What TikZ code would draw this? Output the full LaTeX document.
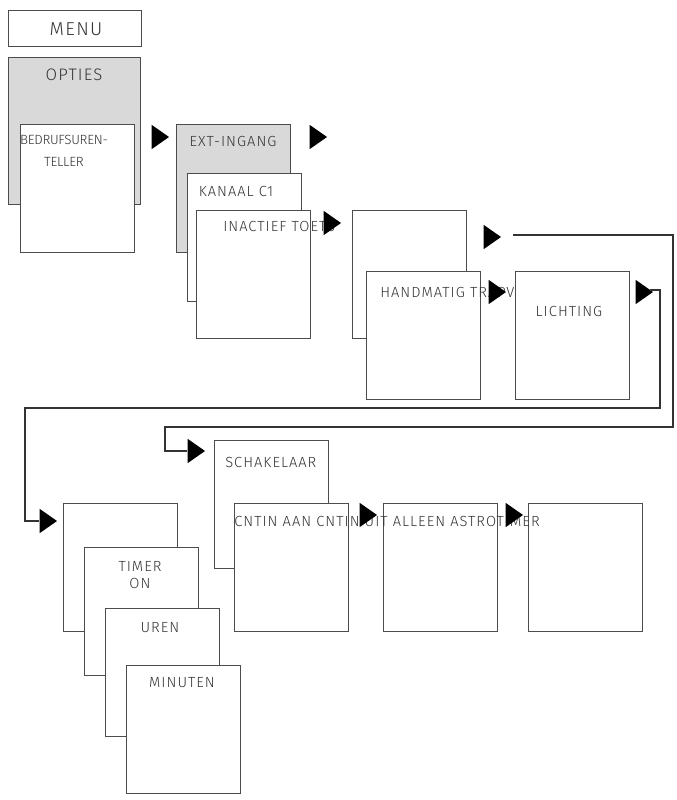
\documentclass[tikz,border=0pt]{standalone}
\usepackage{fontspec}
\setmainfont{Fira Sans Light}[LetterSpace=7]
\usetikzlibrary{shapes.geometric}
\tikzset{
  box/.style={draw=black!70, line width=1.1pt, fill=white, anchor=north west,
    inner sep=0pt, minimum width=114*0.75pt, minimum height=128*0.75pt},
  greybox/.style={box, fill=black!15},
  lbl/.style={font=\fontsize{11}{13}\selectfont, text=black!80, inner sep=0pt},
  tri/.style={isosceles triangle, fill=black, inner sep=0pt,
    minimum height=13pt, minimum width=14pt, isosceles triangle apex angle=70},
  wire/.style={draw=black!80, line width=1.6pt}
}
\begin{document}
\begin{tikzpicture}[x=0.75pt,y=-0.75pt]
\useasboundingbox (0,0) rectangle (676,800);

% top row
\node[box, minimum width=133*0.75pt, minimum height=36*0.75pt] (menu) at (8,10) {};
\node[lbl, font=\fontsize{14}{16}\selectfont] (menut) at (76,29) {MENU};
\node[greybox, minimum width=132*0.75pt, minimum height=147*0.75pt] (opties) at (8,57) {};
\node[lbl, font=\fontsize{12.5}{15}\selectfont] (optiest) at (74,75) {OPTIES};
\node[box] (teller) at (20,124) {};
\node[lbl, align=center, font=\fontsize{10}{16}\selectfont\addfontfeature{LetterSpace=-2}] (tellert) at (64,151) {BEDRUFSUREN-\\TELLER};
\node[tri] (t1) at (158,137) {};

\node[greybox] (ext) at (176,124) {};
\node[lbl] (extt) at (233,141) {EXT-INGANG};
\node[tri] (t2) at (316,137) {};
\node[box] (kanaal) at (187,173) {};
\node[lbl] (kanaalt) at (236,191) {KANAAL C1};
\node[box] (inactief) at (196,210) {};
\node[lbl, anchor=west] (inactieft) at (223,226) {INACTIEF TOETS};
\node[tri] (t3) at (330,223) {};

\node[box] (leeg) at (352,210) {};
\node[tri] (t4) at (490,237) {};
\node[box] (handmatig) at (366,271) {};
\node[lbl, anchor=west] (handmatigt) at (380,292) {HANDMATIG TRAPVER-};
\node[tri] (t5) at (495,292) {};
\node[box] (lichting) at (515,271) {};
\node[lbl] (lichtingt) at (569,311) {LICHTING};
\node[tri] (t6) at (642,292) {};

% verbindingen
\coordinate (a1) at (513,235);
\coordinate (a2) at (673,235);
\coordinate (a3) at (673,427);
\coordinate (a4) at (165,427);
\coordinate (a5) at (165,451);
\coordinate (b1) at (650,290);
\coordinate (b2) at (660,290);
\coordinate (b3) at (660,408);
\coordinate (b4) at (25,408);
\coordinate (b5) at (25,521);

% onderste rij
\node[tri] (t7) at (194,451) {};
\draw[wire] (a1) -- (a2) -- (a3) -- (a4) -- (a5) -- (t7.west);
\node[tri] (t8) at (46,521) {};
\draw[wire] (b1) -- (b2) -- (b3) -- (b4) -- (b5) -- (t8.west);

\node[box] (schakelaar) at (214,440) {};
\node[lbl, anchor=west] (schakelaart) at (225,462) {SCHAKELAAR};
\node[box] (aan) at (234,503) {};
\node[box] (uit) at (383,503) {};
\node[box] (astro) at (528,503) {};
\node[lbl, anchor=west] (keuzet) at (234,521) {CNTIN AAN CNTIN UIT ALLEEN ASTROTIMER};
\node[tri] (t9) at (366,515) {};
\node[tri] (t10) at (512,515) {};

\node[box] (leeg2) at (63,503) {};
\node[box] (timer) at (84,547) {};
\node[lbl, align=center] (timert) at (140,575) {TIMER\\ON};
\node[box] (uren) at (105,608) {};
\node[lbl] (urent) at (160,628) {UREN};
\node[box] (minuten) at (126,665) {};
\node[lbl] (minutent) at (182,683) {MINUTEN};
\end{tikzpicture}
\end{document}
